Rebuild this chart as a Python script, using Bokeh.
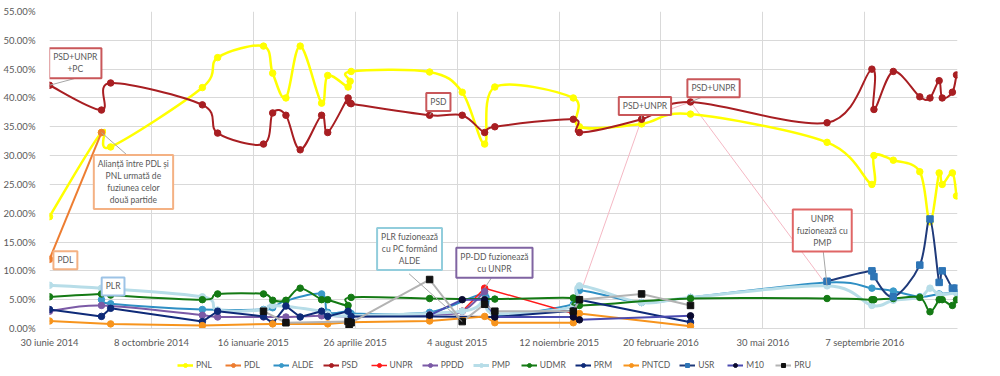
import numpy as np
from bokeh.plotting import figure
from bokeh.layouts import column
from bokeh.models import (FixedTicker, Range1d, Label, Legend, LegendItem)
from bokeh.embed import file_html
from bokeh.resources import INLINE

# ---------------- data (x = days since 30 iunie 2014, y = percent) ----------------
tick_days = [0, 100, 200, 300, 400, 500, 600, 700, 800]
tick_labels = ["30 iunie 2014", "8 octombrie 2014", "16 ianuarie 2015", "26 aprilie 2015",
               "4 august 2015", "12 noiembrie 2015", "20 februarie 2016", "30 mai 2016",
               "7 septembrie 2016"]
y_ticks = [0, 5, 10, 15, 20, 25, 30, 35, 40, 45, 50, 55]

pnl_days = [0, 51, 60, 150, 165, 210, 219, 232, 246, 267, 273, 293, 295, 296, 373, 405, 427,
            437, 514, 520, 581, 629, 763, 807, 809, 828, 854, 864, 873, 876, 886, 890]
pnl = [19.4, 34.0, 31.5, 41.8, 47.0, 49.0, 44.3, 40.0, 49.0, 39.1, 43.9, 41.9, 42.9, 44.6, 44.5,
       41.0, 32.0, 41.9, 40.0, 35.0, 35.5, 37.2, 32.3, 25.0, 30.0, 29.2, 27.2, 18.5, 27.0, 25.0,
       27.0, 23.0]

pdl_days = [0, 51]
pdl = [12.0, 34.0]

alde_days = [51, 60, 150, 210, 219, 232, 267, 273, 293, 296, 373, 427, 437, 514, 520, 581, 629,
             763, 807, 828, 854, 873, 890]
alde = [5.0, 4.3, 3.3, 3.3, 3.6, 4.8, 6.0, 2.8, 3.0, 2.6, 2.8, 6.0, 2.4, 4.2, 6.6, 4.5, 5.4,
        8.0, 7.0, 6.5, 5.5, 6.0, 6.2]

psd_days = pnl_days
psd = [42.2, 37.9, 42.6, 38.8, 33.9, 32.0, 37.4, 37.0, 31.0, 37.0, 34.0, 40.0, 39.1, 39.0, 37.0,
       37.0, 34.0, 35.0, 36.3, 34.0, 36.3, 39.3, 35.7, 45.0, 38.0, 44.6, 40.2, 40.0, 43.0, 40.0,
       41.0, 44.0]

unpr_days = [405, 427, 514]
unpr = [3.0, 7.0, 2.6]
unpr_merge_days = [514, 581, 629, 763]
unpr_merge = [2.6, 36.3, 39.3, 7.4]

ppdd_days = [0, 51, 150, 165, 210, 232, 267, 293, 373, 405, 427]
ppdd = [3.0, 4.0, 2.3, 2.0, 2.0, 2.0, 2.2, 2.1, 2.4, 3.0, 6.4]

pmp_days = [0, 51, 150, 165, 210, 219, 267, 273, 293, 405, 427, 437, 514, 520, 581, 629, 763,
            807, 828, 854, 864, 873, 890]
pmp = [7.5, 7.0, 5.5, 3.2, 3.2, 4.0, 3.0, 2.5, 2.2, 3.0, 5.0, 2.6, 3.8, 7.4, 4.5, 5.4, 7.4,
       4.0, 4.9, 5.4, 7.0, 5.9, 6.2]

udmr_days = [0, 51, 60, 150, 165, 210, 219, 232, 246, 267, 273, 293, 296, 373, 437, 514, 520,
             629, 763, 807, 809, 828, 854, 864, 873, 876, 886, 890]
udmr = [5.5, 6.0, 5.8, 5.0, 6.0, 6.0, 4.9, 4.9, 7.0, 5.0, 5.0, 4.0, 5.4, 5.2, 5.1, 5.3, 4.0,
        5.2, 5.2, 5.0, 5.0, 5.2, 5.4, 2.9, 5.0, 5.0, 4.0, 5.0]

prm_days = [0, 51, 60, 150, 165, 210, 219, 232, 246, 267, 273, 293, 296, 373, 437, 514, 520, 629]
prm = [3.3, 2.1, 3.5, 1.2, 3.0, 2.1, 0.9, 3.9, 2.0, 3.0, 2.1, 3.0, 2.1, 2.1, 2.0, 3.1, 5.0, 1.1]

pntcd_days = [0, 60, 150, 219, 273, 293, 373, 427, 437, 514, 520, 629]
pntcd = [1.3, 0.8, 0.5, 0.8, 0.8, 1.1, 1.3, 2.1, 1.0, 1.0, 2.6, 0.4]

usr_days = [763, 807, 809, 828, 854, 864, 873, 876, 886, 890]
usr = [8.2, 10.0, 9.0, 5.5, 11.0, 19.0, 8.0, 10.0, 7.0, 7.0]

m10_days = [373, 405, 427, 437, 514, 520, 629]
m10 = [2.3, 5.0, 5.0, 2.0, 2.0, 1.5, 2.2]

pru_days = [210, 232, 293, 294, 296, 373, 405, 427, 437, 514, 520, 581, 629]
pru = [3.0, 1.0, 1.2, 0.0, 1.0, 8.5, 1.2, 4.2, 3.0, 3.0, 5.0, 6.0, 4.0]

# callouts: text, box centre (day, %), border colour, leader start, leader end
callouts = [
    ("PSD+UNPR\n+PC", 25.3, 46.0, "#C9575A", (25.3, 43.4), (0, 42.2)),
    ("Alianță între PDL și\nPNL urmată de\nfuziunea celor\ndouă partide", 82.4, 25.4, "#F4B183",
     (81.9, 29.2), (51, 34.0)),
    ("PDL", 15.6, 11.85, "#F4B183", None, None),
    ("PLR", 62.4, 7.3, "#9DC3E6", None, None),
    ("PSD", 381.6, 39.3, "#C9575A", (377, 38.1), (373, 37.0)),
    ("PLR fuzionează\ncu PC formând\nALDE", 353.3, 13.8, "#92CDDC", (352.8, 9.5), (405, 1.2)),
    ("PP-DD fuzionează\ncu UNPR", 436.6, 11.4, "#8064A2", (433.7, 8.8), (427, 7.0)),
    ("PSD+UNPR", 584.3, 38.6, "#C9575A", (581, 37.4), (581, 36.3)),
    ("PSD+UNPR", 651.6, 41.7, "#C9575A", (645, 40.5), (629, 39.3)),
    ("UNPR\nfuzionează cu\nPMP", 758.3, 17.0, "#E06666", (759, 13.8), (763, 7.4)),
]

FONT = "Lato"
TXT = "#595959"


def smooth_parts(xs, ys, t=1.0 / 6.0):
    xs = [float(v) for v in xs]
    ys = [float(v) for v in ys]
    n = len(xs)
    out = {k: [] for k in ("x0", "y0", "x1", "y1", "cx0", "cy0", "cx1", "cy1")}
    for i in range(n - 1):
        a = max(i - 1, 0)
        b = min(i + 2, n - 1)
        out["x0"].append(xs[i]); out["y0"].append(ys[i])
        out["x1"].append(xs[i + 1]); out["y1"].append(ys[i + 1])
        out["cx0"].append(xs[i] + (xs[i + 1] - xs[a]) * t)
        out["cy0"].append(ys[i] + (ys[i + 1] - ys[a]) * t)
        out["cx1"].append(xs[i + 1] - (xs[b] - xs[i]) * t)
        out["cy1"].append(ys[i + 1] - (ys[b] - ys[i]) * t)
    return out


p = figure(width=1000, height=350, x_range=Range1d(0, 891), y_range=Range1d(0, 55),
           output_backend="svg", toolbar_location=None,
           min_border_left=43, min_border_right=43, min_border_top=11, min_border_bottom=0)
p.background_fill_color = "white"
p.border_fill_color = "white"
p.outline_line_color = None

p.xaxis.ticker = FixedTicker(ticks=tick_days)
p.xaxis.major_label_overrides = {d: s for d, s in zip(tick_days, tick_labels)}
p.yaxis.ticker = FixedTicker(ticks=y_ticks)
p.yaxis.major_label_overrides = {v: f"{v:.2f}%" for v in y_ticks}
for ax in (p.xaxis[0], p.yaxis[0]):
    ax.major_tick_line_color = None
    ax.minor_tick_line_color = None
    ax.major_label_text_font = FONT
    ax.major_label_text_font_size = "9.5px"
    ax.major_label_text_color = TXT
p.xaxis.major_label_standoff = 2
p.yaxis.major_label_standoff = 8
p.xaxis.axis_line_color = "#D9D9D9"
p.yaxis.axis_line_color = None
p.xgrid.grid_line_color = "#D9D9D9"
p.ygrid.grid_line_color = "#D9D9D9"

series = [
    ("PNL", pnl_days, pnl, "#FFFF00", "#FFFF00", "circle", 2.5, True),
    ("PDL", pdl_days, pdl, "#ED7D31", "#ED7D31", "circle", 2, True),
    ("ALDE", alde_days, alde, "#2E8FC4", "#3A9AC9", "circle", 2, True),
    ("PSD", psd_days, psd, "#A81E22", "#A81E22", "circle", 2, True),
    ("UNPR", unpr_days, unpr, "#FF1A1A", "#FF1A1A", "circle", 1.5, False),
    ("PPDD", ppdd_days, ppdd, "#7B5AA6", "#7B5AA6", "circle", 2, True),
    ("PMP", pmp_days, pmp, "#B7DDE8", "#B7DDE8", "circle", 3, True),
    ("UDMR", udmr_days, udmr, "#147A14", "#147A14", "circle", 2, True),
    ("PRM", prm_days, prm, "#0E2A78", "#0E2A78", "circle", 2, False),
    ("PNTCD", pntcd_days, pntcd, "#F7941D", "#F7941D", "circle", 2, False),
    ("USR", usr_days, usr, "#1F3A7A", "#2E75B6", "square", 2, True),
    ("M10", m10_days, m10, "#4B4BB0", "#0A0A30", "circle", 2, False),
    ("PRU", pru_days, pru, "#B3B3B3", "#111111", "square", 2, False),
]

# faded merge segments of UNPR
p.line(unpr_merge_days, unpr_merge, line_color="#F5B8C4", line_width=1)

# separate strip that carries the legend under the chart
pl = figure(width=1000, height=22, x_range=Range1d(0, 1), y_range=Range1d(0, 1),
            output_backend="svg", toolbar_location=None, x_axis_type=None, y_axis_type=None,
            min_border_left=0, min_border_right=34, min_border_top=0, min_border_bottom=0)
pl.outline_line_color = None
pl.grid.visible = False

items = []
for name, xs, ys, lc, mc, marker, lw, smooth in series:
    if smooth and len(xs) > 2:
        parts = smooth_parts(xs, ys)
        p.bezier(line_color=lc, line_width=lw, **parts)
    else:
        p.line(xs, ys, line_color=lc, line_width=lw)
    p.scatter(xs, ys, marker=marker, size=6.5, fill_color=mc, line_color=mc)
    # legend proxies (kept outside the strip's visible range)
    lr = pl.line([5, 6], [5, 6], line_color=lc, line_width=lw)
    sr = pl.scatter([5], [5], marker=marker, size=5.5, fill_color=mc, line_color=mc)
    items.append(LegendItem(label=name, renderers=[lr, sr]))

for text, cx, cy, col, lfrom, lto in callouts:
    if lfrom is not None:
        p.segment(x0=[lfrom[0]], y0=[lfrom[1]], x1=[lto[0]], y1=[lto[1]],
                  line_color="#A6A6A6", line_width=1)
    p.add_layout(Label(x=cx, y=cy, text=text, text_font=FONT, text_font_size="8.5px",
                       text_color=TXT, text_align="center", text_baseline="middle",
                       background_fill_color="white", border_line_color=col,
                       border_line_width=2, padding=4))

legend = Legend(items=items, orientation="horizontal", location=(128, 2),
                label_text_font=FONT, label_text_font_size="8.5px", label_text_color=TXT,
                glyph_width=16, glyph_height=10, label_standoff=3, spacing=9,
                padding=2, margin=0, border_line_color=None, background_fill_alpha=0)
pl.add_layout(legend)

layout = column(p, pl, spacing=0)
open("out.html", "w").write(file_html(layout, INLINE))
